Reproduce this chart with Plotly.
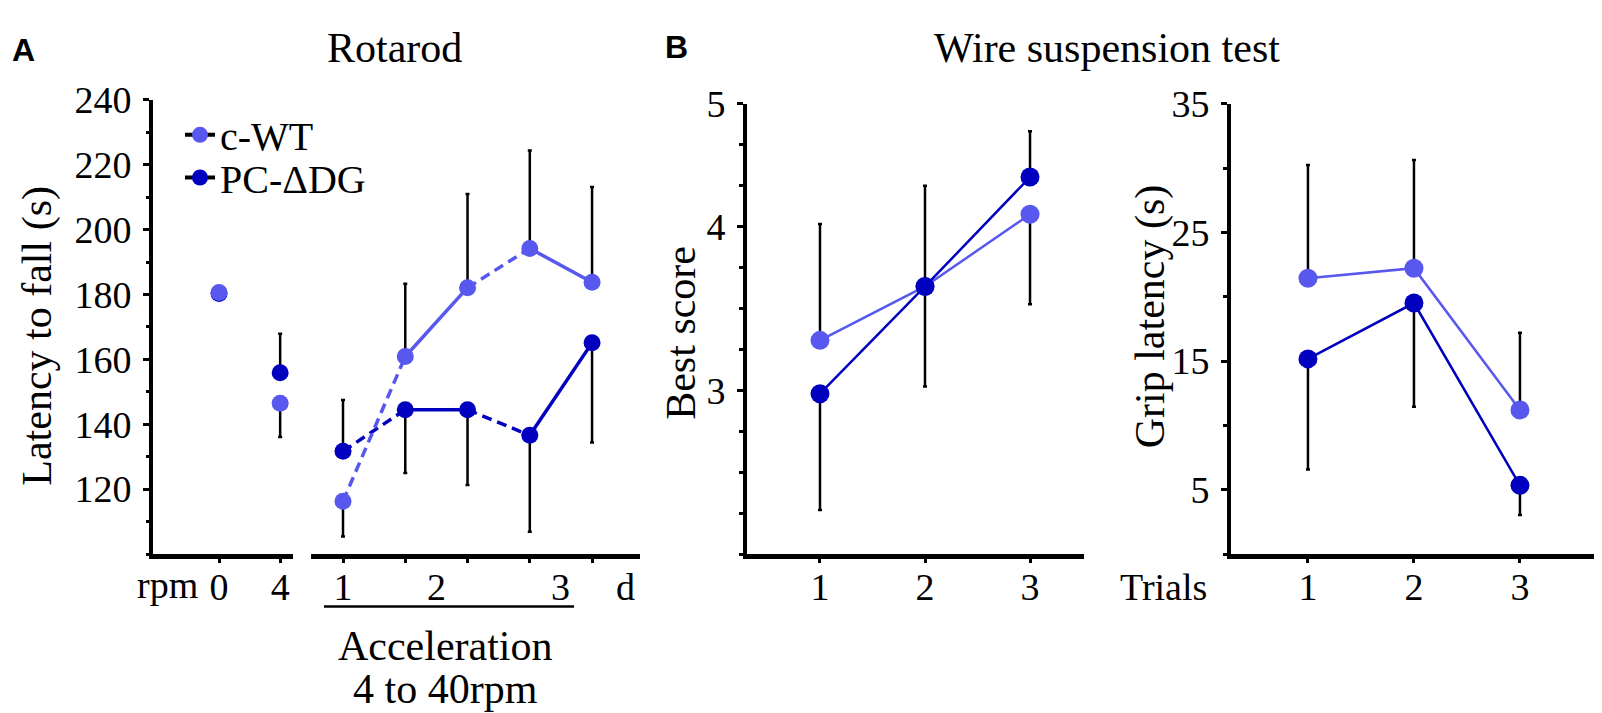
import plotly.graph_objects as go

# ---- data ----
rpm_labels = ['0', '4']
wt_rpm = [180.6, 146.5]
wt_rpm_up = [0, 0]
wt_rpm_dn = [0.4, 10.4]
pc_rpm = [180.3, 155.9]
pc_rpm_up = [0.4, 12.0]
pc_rpm_dn = [0, 0]

accel_trials = [1, 2, 3, 4, 5]
wt_acc = [116.3, 160.9, 182.1, 194.2, 183.8]
wt_acc_up = [0, 22.4, 28.9, 30.2, 29.3]
wt_acc_dn = [10.9, 0, 0, 0, 0]
pc_acc = [131.7, 144.5, 144.5, 136.6, 165.1]
pc_acc_up = [15.8, 0, 0, 0, 0]
pc_acc_dn = [0, 19.5, 23.2, 29.7, 30.7]

wire_trials = [1, 2, 3]
wt_best = [3.305, 3.634, 4.075]
wt_best_up = [0.71, 0, 0]
wt_best_dn = [0, 0.61, 0.55]
pc_best = [2.979, 3.634, 4.302]
pc_best_up = [0, 0.615, 0.28]
pc_best_dn = [0.71, 0, 0]

wt_grip = [21.44, 22.22, 11.2]
wt_grip_up = [8.8, 8.4, 6.0]
pc_grip = [15.17, 19.51, 5.34]
pc_grip_dn = [8.6, 8.07, 2.3]

WT = '#5858EE'
PC = '#0000BE'
SERIF = 'Liberation Serif'
W, H = 1602, 713


def px(x):
    return x / W


def py(y):
    return 1 - y / H


def err(up, dn):
    return dict(type='data', symmetric=False, array=up, arrayminus=dn,
                color='black', thickness=2.5, width=2)


def segs(xs, ys, pairs):
    sx, sy = [], []
    for a, b in pairs:
        sx += [xs[a], xs[b], None]
        sy += [ys[a], ys[b], None]
    return sx, sy


fig = go.Figure()

# ---- A: rotarod, constant rpm ----
fig.add_trace(go.Scatter(x=rpm_labels, y=pc_rpm, mode='markers', xaxis='x', yaxis='y',
                         marker=dict(color=PC, size=17), error_y=err(pc_rpm_up, pc_rpm_dn),
                         showlegend=False))
fig.add_trace(go.Scatter(x=rpm_labels, y=wt_rpm, mode='markers', xaxis='x', yaxis='y',
                         marker=dict(color=WT, size=17), error_y=err(wt_rpm_up, wt_rpm_dn),
                         showlegend=False))

# ---- A: rotarod, acceleration (solid within a day, dashed between days) ----
within = [(1, 2), (3, 4)]
between = [(0, 1), (2, 3)]
for ys, up, dn, col in [(pc_acc, pc_acc_up, pc_acc_dn, PC), (wt_acc, wt_acc_up, wt_acc_dn, WT)]:
    sx, sy = segs(accel_trials, ys, between)
    fig.add_trace(go.Scatter(x=sx, y=sy, mode='lines', xaxis='x2', yaxis='y',
                             line=dict(color=col, width=3.5, dash='10px,6px'), showlegend=False))
    sx, sy = segs(accel_trials, ys, within)
    fig.add_trace(go.Scatter(x=sx, y=sy, mode='lines', xaxis='x2', yaxis='y',
                             line=dict(color=col, width=3.5), showlegend=False))
    fig.add_trace(go.Scatter(x=accel_trials, y=ys, mode='markers', xaxis='x2', yaxis='y',
                             marker=dict(color=col, size=17), error_y=err(up, dn),
                             showlegend=False))

# ---- B: wire suspension ----
fig.add_trace(go.Scatter(x=wire_trials, y=wt_best, mode='lines+markers', xaxis='x3', yaxis='y3',
                         line=dict(color=WT, width=2.5), marker=dict(color=WT, size=19),
                         error_y=err(wt_best_up, wt_best_dn), showlegend=False))
fig.add_trace(go.Scatter(x=wire_trials, y=pc_best, mode='lines+markers', xaxis='x3', yaxis='y3',
                         line=dict(color=PC, width=2.5), marker=dict(color=PC, size=19),
                         error_y=err(pc_best_up, pc_best_dn), showlegend=False))
fig.add_trace(go.Scatter(x=wire_trials, y=wt_grip, mode='lines+markers', xaxis='x4', yaxis='y4',
                         line=dict(color=WT, width=2.5), marker=dict(color=WT, size=19),
                         error_y=err(wt_grip_up, [0, 0, 0]), showlegend=False))
fig.add_trace(go.Scatter(x=wire_trials, y=pc_grip, mode='lines+markers', xaxis='x4', yaxis='y4',
                         line=dict(color=PC, width=2.5), marker=dict(color=PC, size=19),
                         error_y=err([0, 0, 0], pc_grip_dn), showlegend=False))

# legend entries (black bar with coloured dot), one legend box each
for name, col, lg in [('c-WT', WT, 'legend'), ('PC-\u0394DG', PC, 'legend2')]:
    fig.add_trace(go.Scatter(x=[None], y=[None], mode='lines+markers', name=name,
                             xaxis='x', yaxis='y', legend=lg,
                             line=dict(color='black', width=4),
                             marker=dict(color=col, size=18)))

tickfont = dict(family=SERIF, size=38, color='black')
axis_common = dict(showline=True, linecolor='black', showgrid=False, zeroline=False,
                   ticks='outside', tickcolor='black', tickfont=tickfont)
xcommon = dict(axis_common, linewidth=4.5, ticklen=4, tickwidth=3, ticklabelstandoff=-8)
ycommon = dict(axis_common, linewidth=4, ticklen=6, tickwidth=3, ticklabelstandoff=4)
legfont = dict(family=SERIF, size=40, color='black')

fig.update_layout(
    width=W, height=H,
    margin=dict(l=0, r=0, t=0, b=0),
    paper_bgcolor='white', plot_bgcolor='white',
    font=dict(family=SERIF, color='black'),
    xaxis=dict(xcommon, domain=[px(145), px(285)], anchor='y', type='category',
               range=[-1.08, 1.21]),
    xaxis2=dict(xcommon, domain=[px(303), px(632)], anchor='y', range=[0.486, 5.77],
                tickvals=accel_trials, ticktext=['1', '', '', '', '']),
    yaxis=dict(ycommon, domain=[py(541), py(73)], anchor='x', range=[100, 240],
               tickvals=[120, 140, 160, 180, 200, 220, 240],
               minor=dict(tick0=100, dtick=10, ticks='outside', ticklen=3, tickwidth=3,
                          tickcolor='black')),
    xaxis3=dict(xcommon, domain=[px(739), px(1076)], anchor='y3', range=[0.305, 3.514],
                tickvals=wire_trials),
    yaxis3=dict(ycommon, domain=[py(541), py(77)], anchor='x3', range=[2.0, 4.75],
                tickvals=[3, 4, 4.75], ticktext=['3', '4', '5'],
                minor=dict(tick0=2, dtick=0.25, ticks='outside', ticklen=4, tickwidth=3,
                           tickcolor='black')),
    xaxis4=dict(xcommon, domain=[px(1223), px(1594)], anchor='y4', range=[0.274, 3.774],
                tickvals=wire_trials),
    yaxis4=dict(ycommon, domain=[py(541), py(77)], anchor='x4', range=[0, 35],
                tickvals=[5, 15, 25, 35],
                minor=dict(tick0=0, dtick=5, ticks='outside', ticklen=4, tickwidth=3,
                           tickcolor='black')),
    legend=dict(x=px(172), y=py(109), xanchor='left', yanchor='middle',
                font=legfont, bgcolor='rgba(0,0,0,0)'),
    legend2=dict(x=px(172), y=py(153), xanchor='left', yanchor='middle',
                 font=legfont, bgcolor='rgba(0,0,0,0)'),
)

big = dict(family=SERIF, size=42, color='black')
lab = dict(family='Liberation Sans', size=32, color='black')
notes = [
    dict(text='<b>A</b>', x=px(15), y=py(22), font=lab),
    dict(text='<b>B</b>', x=px(668), y=py(19), font=lab),
    dict(text='Rotarod', x=px(386), y=py(20), font=big),
    dict(text='Wire suspension test', x=px(1099), y=py(20), font=big),
    dict(text='Latency to fall (s)', x=px(30), y=py(316), font=big, textangle=-90),
    dict(text='Best score', x=px(673), y=py(313), font=big, textangle=-90),
    dict(text='Grip latency (s)', x=px(1142), y=py(296), font=big, textangle=-90),
    dict(text='rpm', x=px(159), y=py(573), font=tickfont),
    dict(text='d', x=px(617), y=py(575), font=tickfont),
    dict(text='Trials', x=px(1155), y=py(575), font=tickfont),
    dict(text='Acceleration', x=px(437), y=py(636), font=big),
    dict(text='4 to 40rpm', x=px(437), y=py(680), font=big),
]
for n in notes:
    fig.add_annotation(xref='paper', yref='paper', showarrow=False,
                       xanchor='center', yanchor='middle', **n)

# day labels on the acceleration axis
for xv, t in [(2.5, '2'), (4.5, '3')]:
    fig.add_annotation(xref='x2', yref='paper', x=xv, y=py(575), text=t, showarrow=False,
                       xanchor='center', yanchor='middle', font=tickfont)

fig.add_shape(type='line', xref='paper', yref='paper', x0=px(316), x1=px(566),
              y0=py(595), y1=py(595), line=dict(color='black', width=2.5))

fig.write_html("out.html")
